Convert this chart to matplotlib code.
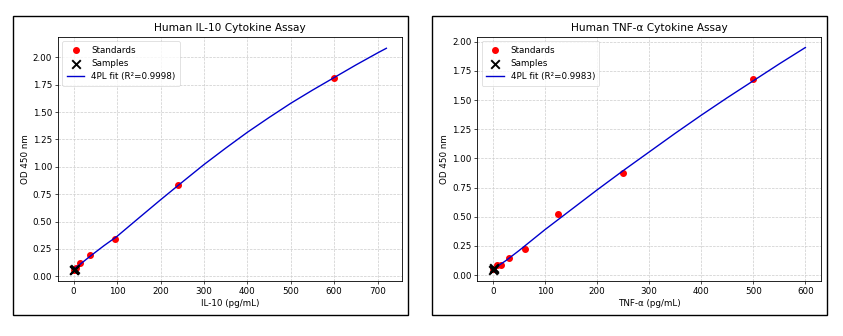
import matplotlib
matplotlib.use("Agg")
import matplotlib.pyplot as plt
from matplotlib.patches import Rectangle

# IL-10 standards (pg/mL) and OD 450
il10_conc = [0, 6.1, 15.4, 38.4, 96, 240, 600]
il10_od = [0.06, 0.08, 0.118, 0.193, 0.345, 0.83, 1.81]
il10_samp_x = [0.5, 1.5, 2.5]
il10_samp_y = [0.055, 0.062, 0.07]
# fitted curve
il10_fit_x = [0, 15, 38, 70, 100, 150, 200, 250, 300, 350, 400, 450, 500, 550, 600, 650, 700, 720]
il10_fit_y = [0.062, 0.11, 0.183, 0.28, 0.365, 0.532, 0.698, 0.86, 1.02, 1.17, 1.315, 1.45,
              1.58, 1.70, 1.815, 1.93, 2.04, 2.082]
il10_r2 = "0.9998"

# TNF-a standards
tnf_conc = [0, 7.8, 15.6, 31.25, 62.5, 125, 250, 500]
tnf_od = [0.05, 0.085, 0.085, 0.15, 0.227, 0.52, 0.871, 1.681]
tnf_samp_x = [0.5, 1.5, 2.5]
tnf_samp_y = [0.048, 0.055, 0.062]
tnf_fit_x = [0, 25, 50, 75, 100, 150, 200, 250, 300, 350, 400, 450, 500, 550, 600]
tnf_fit_y = [0.05, 0.125, 0.21, 0.30, 0.39, 0.56, 0.73, 0.895, 1.055, 1.215, 1.37, 1.52,
             1.665, 1.81, 1.95]
tnf_r2 = "0.9983"

fs = 6.3

def draw(ax, conc, od, sx, sy, fx, fy, r2, title, xlabel):
    ax.scatter(conc, od, s=16, color="red", label="Standards", zorder=2)
    ax.scatter(sx, sy, s=38, marker="x", color="black", linewidths=1.4, label="Samples", zorder=4)
    ax.plot(fx, fy, color="mediumblue", lw=1.0, label="4PL fit (R²=" + r2 + ")", zorder=3)
    ax.set_title(title, fontsize=fs * 1.2, pad=4)
    ax.set_xlabel(xlabel, fontsize=fs, labelpad=2)
    ax.set_ylabel("OD 450 nm", fontsize=fs, labelpad=2)
    ax.tick_params(labelsize=fs, length=2.2, width=0.5, pad=2)
    ax.grid(True, linestyle="--", color="#cccccc", linewidth=0.5)
    for sp in ax.spines.values():
        sp.set_linewidth(0.6)
    leg = ax.legend(loc="upper left", fontsize=fs, handlelength=2.0, borderpad=0.5, labelspacing=0.5)
    leg.get_frame().set_linewidth(0.5)

fig = plt.figure(figsize=(8.43, 3.36), dpi=100)
ax1 = fig.add_axes([58 / 843, 1 - 281 / 336, 344 / 843, 244 / 336])
ax2 = fig.add_axes([477.3 / 843, 1 - 281 / 336, 343.7 / 843, 244 / 336])

draw(ax1, il10_conc, il10_od, il10_samp_x, il10_samp_y, il10_fit_x, il10_fit_y, il10_r2,
     "Human IL-10 Cytokine Assay", "IL-10 (pg/mL)")
draw(ax2, tnf_conc, tnf_od, tnf_samp_x, tnf_samp_y, tnf_fit_x, tnf_fit_y, tnf_r2,
     "Human TNF-α Cytokine Assay", "TNF-α (pg/mL)")

ax1.set_xticks([0, 100, 200, 300, 400, 500, 600, 700])
ax1.set_ylim(-0.043, 2.185)
ax2.set_ylim(-0.05, 2.04)

# black frames around each panel
for x0 in (13, 432):
    fig.add_artist(Rectangle((x0 / 843, 1 - 315 / 336), 395 / 843, 299 / 336,
                             transform=fig.transFigure, fill=False, edgecolor="black", linewidth=1.0))

fig.savefig("out.png", dpi=100)
